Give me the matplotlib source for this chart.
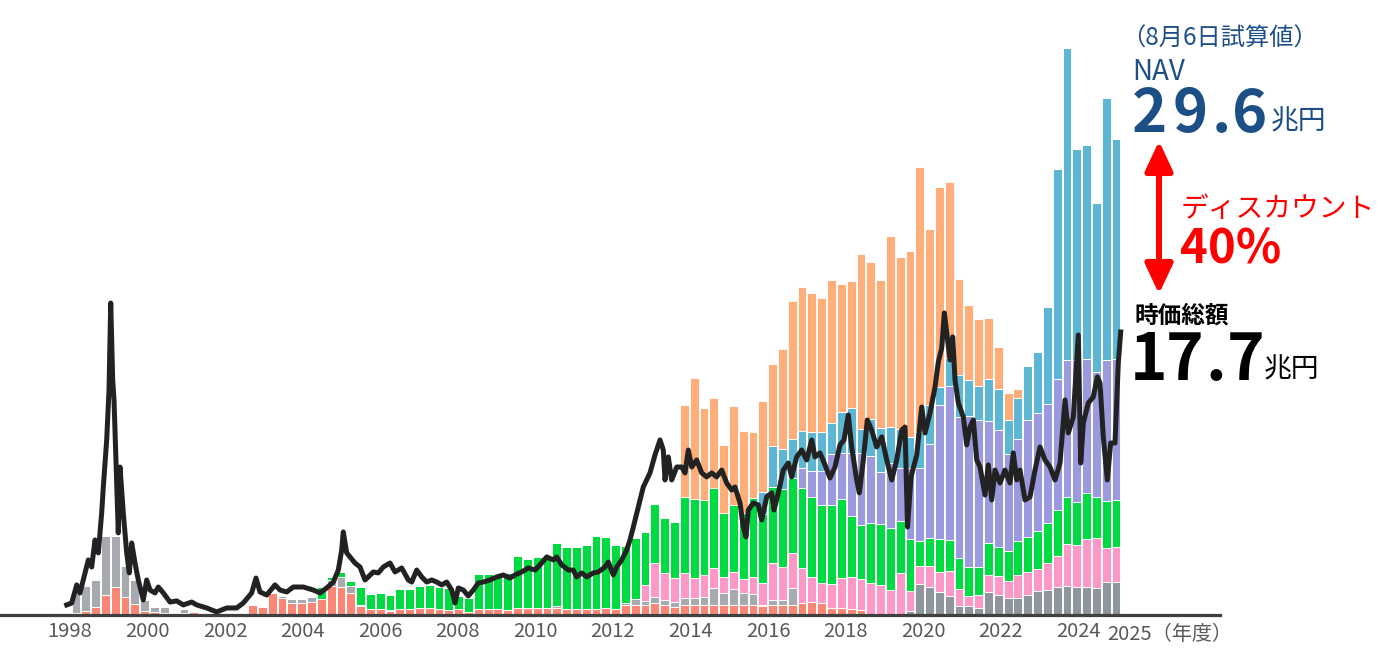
import numpy as np
import matplotlib.pyplot as plt
from matplotlib.patches import FancyArrowPatch

plt.rcParams['font.family'] = ['Noto Sans CJK JP', 'DejaVu Sans']

# quarterly NAV breakdown (trillion yen), first bar = 1998 Q1
salmon = [0.15, 0.25, 0.48, 1.25, 1.73, 1.10, 0.69, 0.27, 0.19, 0.10,
          0.00, 0.10, 0.19, 0, 0, 0, 0, 0.15, 0.60, 0.52,
          1.40, 1.05, 0.78, 0.78, 0.82, 1.02, 1.80, 1.77, 1.35, 0.55,
          0.35, 0.35, 0.27, 0.35, 0.35, 0.46, 0.46, 0.40, 0.31, 0.35,
          0.16, 0.35, 0.35, 0.35, 0.31, 0.46, 0.46, 0.46, 0.46, 0.46,
          0.40, 0.40, 0.40, 0.40, 0.46, 0.40, 0.60, 0.65, 0.65, 0.77,
          0.65, 0.52, 0.62, 0.62, 0.62, 0.62, 0.62, 0.62, 0.62, 0.62,
          0.55, 0.63, 0.63, 0.60, 0.77, 0.82, 0.77, 0.42, 0.46, 0.37,
          0.31] + [0] * 26
gray_light = [1.45, 1.55, 1.72, 3.69, 3.21, 1.96, 1.50, 0.67, 0.33, 0.38,
              0.12, 0.30, 0.08, 0, 0, 0, 0, 0, 0, 0,
              0, 0.15, 0.22, 0.22, 0.28, 0, 0.40, 0.63, 0.45, 0.08,
              0, 0, 0.05, 0, 0, 0, 0, 0, 0, 0,
              0, 0, 0, 0, 0, 0, 0, 0, 0, 0.12,
              0, 0, 0, 0, 0, 0, 0.15, 0.37, 0.25, 0.38,
              0.29, 0.31, 0.42, 0.46, 0.53, 1.05, 0.78, 0.98, 0.78, 0.69,
              0.05, 0.32, 0.30, 1.07] + [0] * 33
gray_dark = [0] * 85 + [0.27, 1.92, 1.77, 1.42, 1.19,
                        0.56, 0.56, 0.42, 1.46, 1.28, 1.04, 1.09, 1.27, 1.50, 1.55,
                        1.74, 1.83, 1.78, 1.78, 1.67, 2.04, 2.08]
pink = [0] * 58 + [0.98, 2.08,
                   1.66, 1.46, 1.56, 1.25, 1.33, 1.27, 1.00, 1.07, 0.85, 1.04,
                   1.40, 2.28, 2.07, 2.18, 2.15, 1.58, 1.21, 1.50, 1.83, 2.03,
                   1.92, 2.02, 1.88, 1.56, 2.65, 1.25, 1.16, 1.31, 1.29, 1.58,
                   1.04, 0.63, 0.83, 1.04, 1.15, 1.09, 1.41, 1.39, 1.39, 1.69,
                   1.96, 2.63, 2.61, 2.96, 3.14, 2.17, 2.15]
green = [0] * 25 + [0.70, 0.20, 0.30, 0.30, 1.15,
                    0.96, 1.05, 0.93, 1.30, 1.30, 1.33, 1.39, 1.35, 1.40, 0.84,
                    0.88, 2.19, 2.19, 2.15, 2.29, 3.25, 3.06, 3.14, 3.08, 3.90,
                    3.87, 3.87, 3.95, 4.54, 4.39, 3.98, 3.56, 3.77, 3.29, 3.69,
                    3.48, 3.50, 4.80, 4.92, 4.71, 4.98, 3.95, 4.20, 4.10, 4.95,
                    4.30, 4.79, 4.90, 4.69, 5.00, 4.95, 4.92, 4.93, 4.96, 3.81,
                    3.37, 3.71, 3.79, 3.90, 3.25, 3.23, 1.55, 1.72, 2.02, 1.93,
                    1.95, 1.81, 1.77, 2.02, 1.85, 1.85, 2.13, 2.20, 2.38, 2.54,
                    2.89, 2.94, 2.66, 2.89, 2.59, 2.89, 2.94]
purple = [0] * 74 + [1.25, 1.67, 2.12, 3.21, 2.85, 3.89,
                     4.50, 4.21, 3.29, 4.06, 3.27, 4.42, 4.54, 5.89, 8.40, 9.61,
                     8.85, 9.44, 9.17, 7.63, 7.28, 6.08, 6.35, 7.35, 7.33, 7.40,
                     8.13, 8.55, 8.90, 8.39, 7.81, 8.85, 8.85]
blue = [0] * 70 + [1.40, 2.54, 2.50, 2.46, 2.35, 2.44, 2.44, 1.96, 2.61, 2.82,
                   1.50, 2.29, 2.71, 2.25, 2.43, 1.98, 2.29, 2.44, 1.15, 1.73,
                   2.60, 2.25, 2.12, 2.58, 2.59, 2.12, 2.59, 3.35, 3.86, 6.07,
                   13.15, 19.48, 13.15, 13.38, 10.56, 16.36, 13.73]
orange = [0] * 62 + [5.72, 7.54, 5.77, 5.66, 4.25, 6.20, 5.15, 4.15,
                     5.70, 5.11, 6.20, 8.60, 8.98, 8.69, 8.38, 8.92, 7.96, 7.96,
                     10.96, 9.83, 9.27, 11.92, 10.78, 11.60, 16.52, 11.00, 12.50, 11.02,
                     5.98, 4.71, 4.17, 3.81, 2.61, 1.69, 0.58] + [0] * 10

# market cap (trillion yen)
line_t = [1997.915, 1998.044, 1998.173, 1998.258, 1998.387, 1998.472, 1998.560, 1998.645, 1998.730, 1998.817,
          1998.859, 1998.946, 1999.006, 1999.050, 1999.101, 1999.135, 1999.186, 1999.245, 1999.289, 1999.374,
          1999.462, 1999.529, 1999.591, 1999.676, 1999.761, 1999.890, 1999.978, 2000.063, 2000.192, 2000.277,
          2000.406, 2000.579, 2000.751, 2000.922, 2001.138, 2001.267, 2001.525, 2001.783, 2002.041, 2002.299,
          2002.469, 2002.685, 2002.796, 2002.899, 2003.072, 2003.286, 2003.415, 2003.588, 2003.758, 2004.016,
          2004.274, 2004.447, 2004.619, 2004.790, 2004.919, 2005.006, 2005.047, 2005.135, 2005.220, 2005.349,
          2005.478, 2005.607, 2005.692, 2005.821, 2005.950, 2006.079, 2006.252, 2006.381, 2006.553, 2006.724,
          2006.811, 2006.940, 2007.069, 2007.198, 2007.327, 2007.456, 2007.585, 2007.714, 2007.843, 2007.928,
          2008.013, 2008.142, 2008.271, 2008.400, 2008.529, 2008.658, 2008.831, 2009.003, 2009.173, 2009.346,
          2009.475, 2009.648, 2009.818, 2009.991, 2010.120, 2010.293, 2010.463, 2010.550, 2010.679, 2010.850,
          2010.978, 2011.066, 2011.195, 2011.324, 2011.494, 2011.623, 2011.796, 2011.881, 2012.010, 2012.097,
          2012.226, 2012.355, 2012.440, 2012.526, 2012.654, 2012.783, 2012.956, 2013.085, 2013.214, 2013.299,
          2013.343, 2013.428, 2013.516, 2013.645, 2013.774, 2013.859, 2013.944, 2014.032, 2014.160, 2014.289,
          2014.418, 2014.547, 2014.676, 2014.805, 2014.934, 2015.063, 2015.148, 2015.277, 2015.362, 2015.432,
          2015.491, 2015.620, 2015.749, 2015.837, 2015.966, 2016.094, 2016.154, 2016.265, 2016.394, 2016.523,
          2016.610, 2016.739, 2016.868, 2016.997, 2017.126, 2017.211, 2017.340, 2017.469, 2017.598, 2017.727,
          2017.856, 2017.959, 2018.070, 2018.157, 2018.286, 2018.354, 2018.457, 2018.560, 2018.673, 2018.802,
          2018.931, 2019.060, 2019.189, 2019.318, 2019.447, 2019.532, 2019.597, 2019.687, 2019.834, 2019.963,
          2020.048, 2020.177, 2020.306, 2020.391, 2020.479, 2020.546, 2020.608, 2020.693, 2020.762, 2020.822,
          2020.907, 2021.036, 2021.123, 2021.208, 2021.294, 2021.381, 2021.466, 2021.595, 2021.680, 2021.768,
          2021.853, 2021.981, 2022.110, 2022.239, 2022.324, 2022.412, 2022.497, 2022.626, 2022.755, 2022.884,
          2023.013, 2023.142, 2023.271, 2023.400, 2023.529, 2023.658, 2023.743, 2023.872, 2024.001, 2024.063,
          2024.130, 2024.259, 2024.387, 2024.491, 2024.560, 2024.645, 2024.748, 2024.836, 2024.947, 2025.032,
          2025.094]
line_v = [0.63, 0.75, 1.88, 1.38, 2.63, 3.44, 3.00, 4.69, 3.88, 6.38,
          8.00, 10.94, 14.06, 19.50, 14.69, 13.44, 9.50, 5.13, 9.25, 6.38,
          3.88, 2.63, 4.50, 3.25, 2.19, 0.94, 2.19, 1.56, 1.38, 1.75,
          1.38, 0.81, 0.88, 0.63, 0.81, 0.63, 0.44, 0.19, 0.44, 0.44,
          0.75, 1.38, 2.31, 1.44, 1.25, 1.88, 1.56, 1.44, 1.75, 1.75,
          1.56, 1.38, 1.69, 2.06, 2.81, 4.06, 5.19, 3.88, 3.63, 3.25,
          3.00, 2.19, 2.38, 2.69, 2.63, 3.00, 3.25, 2.69, 2.94, 2.19,
          2.06, 2.81, 2.38, 2.06, 2.19, 2.06, 1.88, 2.06, 1.56, 0.75,
          1.69, 1.56, 1.19, 1.56, 2.00, 2.06, 2.19, 2.38, 2.50, 2.31,
          2.50, 2.69, 2.94, 2.81, 3.13, 3.63, 3.44, 3.63, 3.13, 2.81,
          2.81, 2.38, 2.63, 2.38, 2.63, 2.69, 3.00, 3.31, 2.50, 3.00,
          3.44, 4.06, 4.69, 5.50, 6.75, 8.00, 8.88, 10.00, 10.94, 10.31,
          8.44, 9.88, 8.44, 9.25, 9.25, 8.88, 10.31, 9.25, 9.69, 8.88,
          8.63, 8.88, 8.63, 9.06, 8.25, 7.81, 8.00, 7.00, 5.50, 4.88,
          6.56, 7.00, 6.88, 5.94, 7.38, 7.63, 6.56, 7.63, 9.06, 9.50,
          8.63, 9.88, 10.31, 9.69, 10.94, 9.88, 10.13, 9.38, 8.56, 9.25,
          10.63, 10.94, 12.50, 10.50, 8.44, 7.63, 9.69, 12.19, 11.56, 10.50,
          11.13, 9.69, 8.44, 9.69, 11.56, 11.75, 5.50, 8.63, 10.00, 13.00,
          11.38, 12.63, 14.25, 15.81, 16.69, 18.88, 17.63, 15.94, 17.38, 14.69,
          13.25, 12.38, 10.63, 11.75, 12.19, 9.69, 9.25, 7.50, 9.38, 7.19,
          9.06, 8.25, 9.06, 8.25, 10.13, 8.44, 9.06, 7.19, 7.38, 9.06,
          10.50, 9.69, 9.25, 8.44, 9.50, 13.44, 11.38, 12.38, 17.50, 9.50,
          12.00, 13.25, 13.63, 14.88, 14.50, 11.13, 8.44, 10.75, 10.75, 15.75,
          17.69]

tick_years = list(range(1998, 2025, 2))

colors = ['#fa8775', '#a7aaaf', '#8e959c', '#fd98c9', '#00db42', '#9c9ade', '#5db6d3', '#ffae7a']
series = [salmon, gray_light, gray_dark, pink, green, purple, blue, orange]

W, H = 1380, 654
fig = plt.figure(figsize=(W / 100, H / 100), dpi=100)
ax = fig.add_axes([0, 1 - 615 / H, 1220 / W, 615 / H])

n = len(salmon)
step = 0.253
bar_x = 1998.155 + step * np.arange(n)
bottom = np.zeros(n)
for vals, c in zip(series, colors):
    vals = np.array(vals, dtype=float)
    ax.bar(bar_x, vals, width=step * 0.9, bottom=bottom, color=c,
           edgecolor='white', linewidth=0.7, zorder=1)
    bottom += vals

ax.plot(line_t, line_v, color='#222222', lw=3.6, solid_joinstyle='round', zorder=3)

ax.set_xlim(1998 - 70 / 38.78, 1998 + 1150 / 38.78)
ax.set_ylim(0, 615 / 16)
for s in ['top', 'right', 'left']:
    ax.spines[s].set_visible(False)
ax.spines['bottom'].set_color('#404040')
ax.spines['bottom'].set_linewidth(2.3)
ax.spines['bottom'].set_zorder(4)
ax.set_yticks([])
ax.set_xticks(tick_years)
ax.set_xticklabels([str(y) for y in tick_years])
ax.tick_params(axis='x', length=0, pad=4, labelsize=14.5, labelcolor='#595959')
ax.patch.set_alpha(0)


def fx(px):
    return px / W


def fy(py):
    return 1 - py / H


def spaced(text, lefts, py, **kw):
    # big figures are letter-spaced in the original
    for ch, px in zip(text, lefts):
        fig.text(fx(px), fy(py), ch, va='baseline', ha='left', **kw)


fig.text(fx(1107), fy(640), '2025（年度）', fontsize=14.5, color='#595959', va='baseline')

navy = '#1d4f87'
fig.text(fx(1121), fy(46), '（8月6日試算値）', fontsize=17.5, color=navy, va='baseline')
fig.text(fx(1132), fy(80), 'NAV', fontsize=20, color=navy, va='baseline')
spaced('29.6', [1132, 1173, 1212, 1232], 132, fontsize=43, color=navy, fontweight='bold')
fig.text(fx(1271), fy(129), '兆円', fontsize=20, color=navy, va='baseline')

fig.text(fx(1181), fy(217), 'ディスカウント', fontsize=20, color='red', va='baseline')
fig.text(fx(1180), fy(263), '40%', fontsize=34, color='red', va='baseline', fontweight='bold')

fig.text(fx(1134), fy(323), '時価総額', fontsize=17, color='black', va='baseline', fontweight='bold')
spaced('17.7', [1130, 1166, 1206, 1227], 380, fontsize=46, color='black', fontweight='bold')
fig.text(fx(1264), fy(377), '兆円', fontsize=20, color='black', va='baseline')

arrow = FancyArrowPatch((fx(1159), fy(294)), (fx(1159), fy(141)), transform=fig.transFigure,
                        arrowstyle='<|-|>,head_length=0.9,head_width=0.42', mutation_scale=20,
                        color='red', lw=4.3, shrinkA=0, shrinkB=0)
fig.patches.append(arrow)

fig.savefig('out.png', dpi=100, facecolor='white')
